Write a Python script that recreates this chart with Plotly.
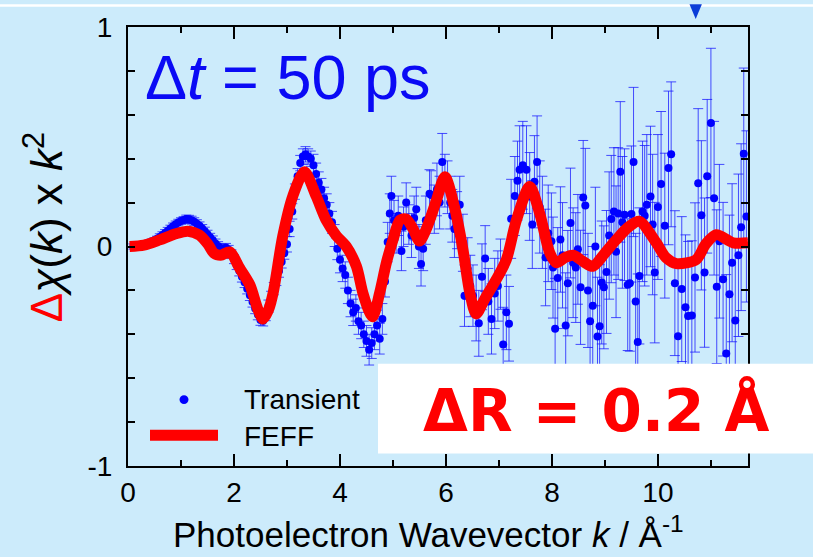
import plotly.graph_objects as go

# ---------------- data ----------------
# FEFF simulation of the transient difference signal (smooth curve)
k_feff = [0.03, 0.30, 0.60, 0.90, 1.13, 1.35, 1.51, 1.62, 1.75, 1.92, 2.11, 2.30, 2.45,
          2.55, 2.65, 2.74, 2.92, 3.11, 3.33, 3.55, 3.74, 3.93, 4.12, 4.31, 4.43,
          4.56, 4.62, 4.75, 4.88, 5.00, 5.13, 5.25, 5.38, 5.50, 5.63, 5.82, 5.98,
          6.16, 6.32, 6.45, 6.57, 6.73, 6.95, 7.14, 7.33, 7.58, 7.77, 7.96, 8.08,
          8.25, 8.40, 8.60, 8.77, 9.00, 9.21, 9.45, 9.65, 9.97, 10.15, 10.35, 10.72,
          10.90, 11.10, 11.42, 11.70]
chi_feff = [0.000, 0.006, 0.030, 0.058, 0.070, 0.052, 0.010, -0.030, -0.040, -0.025, -0.100,
            -0.175, -0.285, -0.330, -0.290, -0.210, 0.047, 0.230, 0.340, 0.230, 0.120,
            0.050, 0.000, -0.090, -0.210, -0.300, -0.320, -0.210, -0.070, 0.030, 0.120,
            0.125, 0.080, 0.025, 0.080, 0.210, 0.318, 0.180, -0.013, -0.210, -0.307,
            -0.240, -0.150, -0.060, 0.120, 0.273, 0.150, -0.030, -0.074, -0.050, -0.040,
            -0.070, -0.090, -0.030, 0.030, 0.090, 0.115, 0.017, -0.050, -0.078, -0.060,
            0.010, 0.054, 0.017, 0.017]

# Measured transient (laser on - laser off) with error bars
k_trans = [
    0.10, 0.15, 0.20, 0.25, 0.30, 0.35, 0.40, 0.45, 0.50, 0.55,
    0.60, 0.65, 0.70, 0.75, 0.80, 0.85, 0.90, 0.95, 1.00, 1.05,
    1.10, 1.15, 1.20, 1.25, 1.30, 1.35, 1.40, 1.45, 1.50, 1.55,
    1.60, 1.65, 1.70, 1.75, 1.80, 1.85, 1.90, 1.95, 2.00, 2.05,
    2.10, 2.15, 2.20, 2.25, 2.30, 2.35, 2.40, 2.45, 2.50, 2.55,
    2.60, 2.65, 2.70, 2.75, 2.80, 2.85, 2.90, 2.95,
    3.00, 3.05, 3.10, 3.15, 3.20, 3.25, 3.30, 3.35, 3.40, 3.45,
    3.50, 3.55, 3.60, 3.65, 3.70, 3.75, 3.80, 3.85, 3.90, 3.95,
    4.00, 4.05, 4.10, 4.15, 4.20, 4.25, 4.30, 4.35, 4.40, 4.45,
    4.50, 4.55, 4.60, 4.65, 4.70, 4.75, 4.80, 4.85,
    4.90, 4.94, 4.97, 5.02, 5.06, 5.10, 5.16, 5.20, 5.25, 5.30,
    5.35, 5.40, 5.44, 5.49, 5.53, 5.57, 5.62, 5.69, 5.72, 5.78,
    5.83, 5.88, 5.93, 5.98, 6.03, 6.08, 6.12, 6.16, 6.21, 6.26,
    6.32, 6.35, 6.41, 6.46, 6.51, 6.57, 6.62, 6.68, 6.74, 6.80,
    6.86, 6.92, 6.98, 7.03, 7.08, 7.14, 7.19, 7.23, 7.30, 7.35,
    7.39, 7.45, 7.52, 7.58, 7.63, 7.67, 7.72, 7.77, 7.82, 7.88,
    7.93, 7.99, 8.02, 8.06, 8.11, 8.16, 8.20, 8.26, 8.30, 8.35,
    8.40, 8.45, 8.49, 8.54, 8.59, 8.63, 8.68, 8.72, 8.77, 8.82,
    8.86, 8.90, 8.94, 8.98, 9.03, 9.08, 9.12, 9.17, 9.21, 9.25,
    9.29, 9.33, 9.37, 9.43, 9.47, 9.50, 9.54, 9.58, 9.62, 9.65,
    9.71, 9.75, 9.79, 9.86, 9.90, 9.94, 10.00, 10.06, 10.13, 10.20,
    10.25, 10.32, 10.38, 10.45, 10.52, 10.57, 10.64, 10.70, 10.76, 10.82,
    10.88, 10.93, 11.00, 11.06, 11.11, 11.16, 11.23, 11.29, 11.35, 11.40,
    11.46, 11.52, 11.57, 11.62, 11.67,
]
chi_trans = [
    0.000, 0.002, 0.004, 0.006, 0.010, 0.013, 0.017, 0.022, 0.028, 0.035,
    0.043, 0.052, 0.062, 0.072, 0.082, 0.092, 0.101, 0.109, 0.116, 0.121,
    0.125, 0.124, 0.120, 0.113, 0.104, 0.094, 0.082, 0.070, 0.056, 0.042,
    0.028, 0.014, 0.002, -0.008, -0.010, -0.006, -0.015, -0.035, -0.058, -0.085,
    -0.110, -0.138, -0.163, -0.192, -0.222, -0.252, -0.282, -0.310, -0.335, -0.338,
    -0.310, -0.272, -0.232, -0.192, -0.150, -0.112, -0.070, -0.030,
    0.010, 0.080, 0.160, 0.250, 0.320, 0.380, 0.410, 0.420, 0.410, 0.400,
    0.370, 0.330, 0.290, 0.260, 0.220, 0.190, 0.150, 0.110, 0.050, -0.010,
    -0.060, -0.100, -0.130, -0.200, -0.260, -0.300, -0.280, -0.340, -0.360, -0.400,
    -0.430, -0.470, -0.440, -0.400, -0.360, -0.420, -0.330, -0.160,
    0.020, 0.150, 0.230, 0.120, 0.060, 0.140, -0.020, 0.090, 0.200, 0.100,
    0.050, 0.130, 0.170, 0.000, -0.080, -0.010, 0.120, 0.240, 0.235, 0.170,
    0.260, 0.200, 0.385, 0.300, 0.270, 0.200, 0.140, 0.080, 0.120, 0.190,
    0.017, -0.224, -0.100, -0.180, -0.224, -0.280, -0.350, -0.138, -0.055, -0.250,
    -0.330, -0.214, -0.180, -0.126, -0.447, -0.300, -0.352, 0.126, 0.230, 0.300,
    0.350, 0.370, 0.350, 0.228, 0.100, 0.295, 0.385, 0.180, 0.110, -0.050,
    0.060, 0.024, -0.096, -0.375, -0.144, 0.032, -0.040, -0.360, -0.167, 0.107,
    -0.074, -0.096, -0.013, -0.186, 0.223, 0.187, -0.200, -0.340, -0.270, 0.000,
    -0.410, -0.363, -0.164, -0.186, -0.116, 0.050, 0.125, 0.160, -0.024, 0.150,
    0.340, 0.110, 0.145, -0.174, -0.167, 0.148, 0.385, -0.250, -0.435, -0.134,
    0.160, 0.140, 0.190, 0.228, 0.100, -0.119, 0.180, 0.285, 0.095, 0.358,
    0.420, -0.167, -0.409, -0.194, -0.277, -0.317, -0.314, -0.141, 0.288, 0.142,
    -0.119, 0.320, 0.563, 0.220, -0.183, 0.024, -0.149, -0.488, -0.217, -0.074,
    -0.337, -0.040, 0.088, 0.423, 0.137,
]
err_trans = [
    0.012, 0.012, 0.012, 0.012, 0.012, 0.012, 0.012, 0.012, 0.012, 0.012,
    0.015, 0.015, 0.015, 0.015, 0.015, 0.015, 0.015, 0.015, 0.015, 0.015,
    0.018, 0.018, 0.018, 0.018, 0.018, 0.018, 0.018, 0.018, 0.018, 0.018,
    0.020, 0.020, 0.020, 0.020, 0.020, 0.020, 0.020, 0.020, 0.020, 0.020,
    0.024, 0.024, 0.024, 0.024, 0.024, 0.024, 0.024, 0.024, 0.024, 0.024,
    0.028, 0.028, 0.028, 0.028, 0.028, 0.028, 0.028, 0.028,
    0.035, 0.035, 0.035, 0.035, 0.035, 0.035, 0.035, 0.035, 0.035, 0.035,
    0.050, 0.050, 0.050, 0.050, 0.050, 0.050, 0.050, 0.050, 0.050, 0.050,
    0.060, 0.060, 0.060, 0.060, 0.060, 0.060, 0.060, 0.060, 0.060, 0.060,
    0.070, 0.070, 0.070, 0.070, 0.070, 0.070, 0.070, 0.070,
    0.090, 0.090, 0.090, 0.090, 0.090, 0.090, 0.090, 0.090, 0.090, 0.090,
    0.100, 0.100, 0.100, 0.100, 0.100, 0.100, 0.110, 0.110, 0.110, 0.110,
    0.120, 0.120, 0.130, 0.120, 0.120, 0.120, 0.120, 0.130, 0.130, 0.130,
    0.130, 0.140, 0.140, 0.140, 0.140, 0.150, 0.150, 0.150, 0.150, 0.150,
    0.160, 0.160, 0.160, 0.160, 0.170, 0.170, 0.170, 0.180, 0.180, 0.180,
    0.200, 0.200, 0.200, 0.200, 0.200, 0.210, 0.210, 0.210, 0.210, 0.220,
    0.220, 0.220, 0.230, 0.230, 0.230, 0.240, 0.240, 0.240, 0.240, 0.250,
    0.250, 0.250, 0.250, 0.260, 0.260, 0.260, 0.260, 0.270, 0.270, 0.270,
    0.270, 0.280, 0.280, 0.280, 0.280, 0.290, 0.290, 0.290, 0.300, 0.300,
    0.320, 0.300, 0.300, 0.300, 0.310, 0.310, 0.340, 0.310, 0.310, 0.310,
    0.320, 0.320, 0.320, 0.320, 0.320, 0.320, 0.330, 0.330, 0.330, 0.350,
    0.330, 0.330, 0.330, 0.330, 0.330, 0.340, 0.340, 0.340, 0.340, 0.340,
    0.340, 0.350, 0.340, 0.350, 0.350, 0.350, 0.350, 0.360, 0.360, 0.360,
    0.370, 0.370, 0.380, 0.390, 0.390,
]
assert len(k_trans) == len(chi_trans) == len(err_trans)

y_tick_vals = [-1, 0, 1]
y_tick_text = ["-1", "0", "1"]
x_tick_vals = [0, 2, 4, 6, 8, 10]
x_tick_text = ["0", "2", "4", "6", "8", "10"]

# ---------------- geometry helpers (pixel -> paper) ----------------
W, H = 813, 557
L, R, T, B = 128, 65, 23, 91
PW, PH = W - L - R, H - T - B


def px(x):
    return (x - L) / PW


def py(y):
    return (H - B - y) / PH


BG = "#CCEBFB"
BLUE = "#0000FF"
RED = "#FF0000"
FONT = "Liberation Sans"

fig = go.Figure()

fig.add_trace(go.Scatter(
    x=k_trans, y=chi_trans, mode="markers", name="Transient",
    marker=dict(color=BLUE, size=8),
    error_y=dict(type="data", array=err_trans, color="rgba(20,20,255,0.75)",
                 thickness=1, width=5),
    showlegend=False, cliponaxis=True,
))
fig.add_trace(go.Scatter(
    x=k_feff, y=chi_feff, mode="lines", name="FEFF",
    line=dict(color=RED, width=11, shape="spline", smoothing=0.8),
    showlegend=False,
))

axis_common = dict(
    showline=True, linecolor="black", linewidth=2, mirror="ticks",
    ticks="inside", tickcolor="black", tickwidth=2,
    showgrid=False, zeroline=False,
    tickfont=dict(family=FONT, size=28, color="black"),
)
fig.update_xaxes(range=[0, 11.7], tickvals=x_tick_vals, ticktext=x_tick_text,
                 ticklen=12, minor=dict(dtick=1, tick0=0, ticklen=6, ticks="inside",
                                        tickcolor="black", tickwidth=2),
                 **axis_common)
fig.update_yaxes(range=[-1, 1], tickvals=y_tick_vals, ticktext=y_tick_text,
                 ticklen=7, ticklabelstandoff=8,
                 minor=dict(dtick=0.2, tick0=0, ticklen=7, ticks="inside",
                            tickcolor="black", tickwidth=2),
                 **axis_common)

shapes = [
    # thin white strip along the top edge
    dict(type="rect", xref="paper", yref="paper", x0=px(0), x1=px(W), y0=py(2.5), y1=py(0),
         fillcolor="white", line=dict(width=0), layer="above"),
    # white panel carrying the bond-length annotation
    dict(type="rect", xref="paper", yref="paper", x0=px(378), x1=px(W), y0=py(453.3),
         y1=py(362.7), fillcolor="white", line=dict(width=0), layer="above"),
    # time-delay marker
    dict(type="path", xref="paper", yref="paper",
         path=f"M {px(689.5)},{py(0)} L {px(701.9)},{py(0)} L {px(695.7)},{py(15)} Z",
         fillcolor="#0A3CD8", line=dict(width=0), layer="above"),
    # legend symbols
    dict(type="circle", xref="paper", yref="paper", x0=px(179.5), x1=px(188.5),
         y0=py(403.5), y1=py(394.5), fillcolor=BLUE, line=dict(width=0), layer="above"),
    dict(type="line", xref="paper", yref="paper", x0=px(150), x1=px(218),
         y0=py(435), y1=py(435), line=dict(color=RED, width=11), layer="above"),
]

annotations = [
    dict(text="Δ<i>t</i> = 50 ps", x=px(143), y=py(73), xref="paper", yref="paper",
         xanchor="left", yanchor="middle", showarrow=False,
         font=dict(family=FONT, size=63, color="#0A0AF5")),
    dict(text="<span style='color:#FF0000'>Δ</span><i>χ</i>(<i>k</i>) x <i>k</i><sup>2</sup>",
         x=px(43), y=py(225), xref="paper", yref="paper", textangle=-90,
         xanchor="center", yanchor="middle", showarrow=False,
         font=dict(family=FONT, size=44, color="black")),
    dict(text="Photoelectron Wavevector <i>k</i> / Å<sup>-1</sup>",
         x=px(428), y=py(533), xref="paper", yref="paper",
         xanchor="center", yanchor="middle", showarrow=False,
         font=dict(family=FONT, size=35, color="black")),
    dict(text="<b>ΔR = 0.2 Å</b>", x=px(596), y=py(410), xref="paper", yref="paper",
         xanchor="center", yanchor="middle", showarrow=False,
         font=dict(family="DejaVu Sans", size=58, color=RED)),
    dict(text="Transient", x=px(242), y=py(399), xref="paper", yref="paper",
         xanchor="left", yanchor="middle", showarrow=False,
         font=dict(family=FONT, size=28, color="black")),
    dict(text="FEFF", x=px(242), y=py(436), xref="paper", yref="paper",
         xanchor="left", yanchor="middle", showarrow=False,
         font=dict(family=FONT, size=28, color="black")),
]

fig.update_layout(
    width=W, height=H, margin=dict(l=L, r=R, t=T, b=B),
    paper_bgcolor=BG, plot_bgcolor=BG,
    shapes=shapes, annotations=annotations, showlegend=False,
)

fig.write_html("out.html")
